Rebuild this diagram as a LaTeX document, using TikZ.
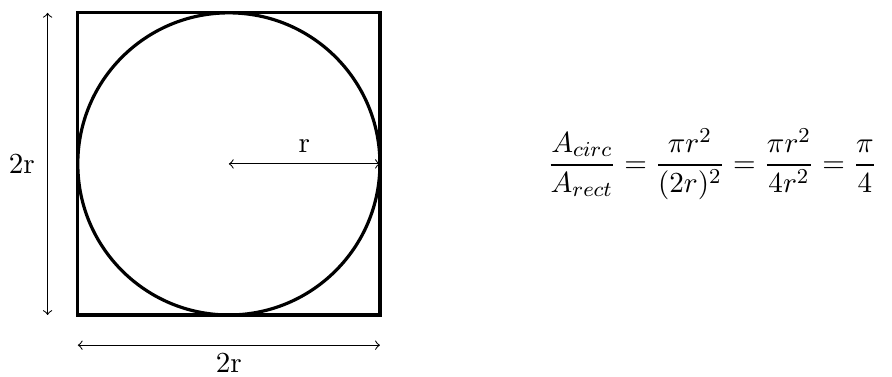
\documentclass[tikz,border=0pt,11pt]{standalone}
\usepackage{amsmath, amssymb, amsfonts}
\usepackage{xcolor}

\begin{document}
\begin{tikzpicture}[>=to, scale=1, auto]
    \useasboundingbox (-1.03,-0.81) rectangle (10.78,4.17);

    % Shapes
    \draw[very thick] (0,0) rectangle (4,4);
    \draw[very thick] (2,2) circle (2);

    % Points
    \coordinate (centre) at (2,2);
    \coordinate (rim) at (4,2);
    \coordinate (vtop) at (-0.4,4);
    \coordinate (vbot) at (-0.4,0);
    \coordinate (hleft) at (0,-0.4);
    \coordinate (hright) at (4,-0.4);

    % Labels
    \node (lr) at (3,2.23) {r};
    \node (lv) at (-0.74,2) {2r};
    \node (lh) at (2,-0.63) {2r};

    % Arrows
    \draw[<->] (centre) -- (rim);
    \draw[<->] (vtop) -- (vbot);
    \draw[<->] (hleft) -- (hright);

    % Ratio
    \node (ratio) at (8.4,2) {$\displaystyle \frac{A_{circ}}{A_{rect}} = \frac{\pi r^2}{(2r)^2} = \frac{\pi r^2}{4r^2} = \frac{\pi}{4}$};
\end{tikzpicture}
\end{document}
